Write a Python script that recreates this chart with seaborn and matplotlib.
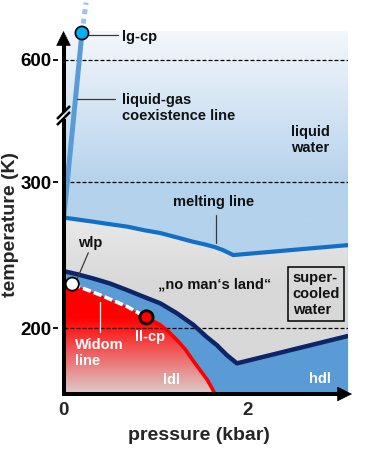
import numpy as np
import matplotlib
matplotlib.use("Agg")
import matplotlib.pyplot as plt
from matplotlib.patches import Polygon
import seaborn as sns

# --- data (pressure in kbar, temperature in K) ---
melt_p = [0.0, 0.32, 0.50, 0.69, 0.87, 1.05, 1.23, 1.40, 1.52, 1.64, 1.73, 1.84, 3.08]
melt_T = [275.7, 272.9, 271.2, 269.5, 267.1, 265.1, 262.1, 259.2, 257.5, 255.5, 253.4,
          250.0, 256.8]

# dark blue border of the hdl region
hom_p = [0.0, 0.14, 0.32, 0.50, 0.69, 0.87, 1.05, 1.23, 1.41, 1.55, 1.66, 1.77, 1.88, 3.08]
hom_T = [239.0, 237.0, 234.0, 230.6, 226.0, 221.4, 216.9, 210.1, 202.1, 194.0, 188.4,
         181.5, 175.8, 194.5]

# ldl border: widom line up to ll-cp, then the red line
ldl_p = [0.0, 0.095, 0.40, 0.69, 0.90, 1.05, 1.14, 1.23, 1.32, 1.40, 1.48, 1.56, 1.61, 1.64]
ldl_T = [232.2, 230.1, 222.6, 214.7, 207.3, 202.1, 197.5, 191.8, 185.4, 178.1, 171.2,
         164.4, 158.7, 155.0]

# liquid-gas coexistence line (+ dotted continuation)
lg_p = [0.005, 0.2]
lg_T = [277.0, 647.0]
lg_ext_p = [0.2, 0.245]
lg_ext_T = [647.0, 700.0]

cp_names = ["lg-cp", "wlp", "ll-cp"]
cp_p = [0.2, 0.095, 0.90]
cp_T = [647.0, 230.1, 207.3]

ref_T = [200, 300, 600]
x_ticks = [0, 2]

T_MIN, T_MAX = 155.0, 704.5
P_MAX = 3.08

# broken temperature axis: linear below the break, compressed above it
T_knots = [100, 155, 345.9, 504, 720]
u_knots = [-80.3, 0, 278.7, 278.8, 402.8]


def fwd(t):
    return np.interp(t, T_knots, u_knots)


def inv(u):
    return np.interp(u, u_knots, T_knots)


sns.set_style("white")
plt.rcParams["font.family"] = ["Liberation Sans", "DejaVu Sans"]
plt.rcParams["font.weight"] = "bold"

W, H = 374, 457
fig = plt.figure(figsize=(W / 100, H / 100), dpi=100)
ax = fig.add_axes([63.5 / W, (H - 393.7) / H, (347.6 - 63.5) / W, 393.7 / H])
ax.set_yscale("function", functions=(fwd, inv))
ax.set_xlim(0, P_MAX)
ax.set_ylim(T_MIN, T_MAX)
ax.set_autoscale_on(False)
ax.set_facecolor("none")


def vgrad(stops, n=500):
    # stops: (pixel row from top, rgb) -> image in axes fraction, origin lower
    py = np.linspace(393.7, 0, n)
    ys = [s[0] for s in stops]
    img = np.zeros((n, 1, 3))
    for k in range(3):
        img[:, 0, k] = np.interp(py, ys, [s[1][k] / 255 for s in stops])
    return img


def clipped_grad(stops, verts, z):
    im = ax.imshow(vgrad(stops), extent=(0, 1, 0, 1), transform=ax.transAxes,
                   origin="lower", aspect="auto", interpolation="bilinear", zorder=z)
    clip = Polygon(verts, closed=True, fc="none", ec="none", transform=ax.transData)
    ax.add_patch(clip)
    im.set_clip_path(clip)


# liquid water background
clipped_grad([(31, (244, 247, 251)), (185, (180, 210, 236)), (394, (180, 210, 236))],
             [(0, T_MIN), (0, 650.5), (P_MAX, 650.5), (P_MAX, T_MIN)], 0)

# no man's land (grey)
clipped_grad([(217, (233, 233, 233)), (285, (216, 216, 216)), (394, (216, 216, 216))],
             [(0, T_MIN)] + list(zip(melt_p, melt_T)) + [(P_MAX, T_MIN)], 1)

# hdl region
ax.fill_between(hom_p, hom_T, T_MIN, color="#5b9bd5", lw=0, zorder=2)

# ldl region (red fading to grey)
clipped_grad([(318, (255, 0, 0)), (394, (221, 206, 206))],
             [(0, T_MIN)] + list(zip(ldl_p, ldl_T)) + [(ldl_p[-1], T_MIN)], 3)

# reference temperatures
ax.hlines(ref_T, 0, P_MAX, colors="black", lw=0.9, linestyles=(0, (3.2, 1.6)), zorder=4)

# lines
sns.lineplot(x=melt_p, y=melt_T, sort=False, estimator=None, color="#1170c6",
             lw=3, ax=ax, zorder=5)
sns.lineplot(x=hom_p, y=hom_T, sort=False, estimator=None, color="#0d2566",
             lw=3.2, ax=ax, zorder=5)
sns.lineplot(x=ldl_p[4:], y=ldl_T[4:], sort=False, estimator=None, color="#ff0000",
             lw=2.6, ax=ax, zorder=5)
sns.lineplot(x=ldl_p[1:5], y=ldl_T[1:5], sort=False, estimator=None, color="white",
             lw=2.6, linestyle=(0, (2.3, 0.9)), ax=ax, zorder=5)
sns.lineplot(x=lg_p, y=lg_T, sort=False, estimator=None, color="#5b9bd5",
             lw=3.6, solid_capstyle="butt", ax=ax, zorder=5)
sns.lineplot(x=lg_ext_p, y=lg_ext_T, sort=False, estimator=None, color="#9dc3e6",
             lw=3.6, linestyle=(0, (1, 0.9)), dash_capstyle="butt", ax=ax, zorder=5)

sns.scatterplot(x=cp_p, y=cp_T, hue=cp_names,
                palette={"lg-cp": "#00b0f0", "wlp": "white", "ll-cp": "#ff0000"},
                s=90, edgecolor="black", linewidth=[1.2, 1.3, 2.0], legend=False,
                ax=ax, zorder=7, clip_on=False)

# labels and leader lines
txt = dict(fontsize=10.5, fontweight="bold", color="#111111", zorder=8)
lead = dict(color="#3a3a3a", lw=0.9, zorder=6)
ax.text(0.631, 639.2, "lg-cp", ha="left", va="center", **txt)
ax.plot([0.258, 0.594], [643, 643], **lead)
ax.text(0.631, 516.4, "liquid-gas\ncoexistence line", ha="left", va="center",
        linespacing=1.15, **txt)
ax.plot([0.150, 0.558], [531.5, 531.5], **lead)
ax.text(2.466, 328.8, "liquid\nwater", ha="left", va="center", linespacing=1.15, **txt)
ax.text(1.632, 286.5, "melting line", ha="center", va="center", **txt)
ax.plot([1.653, 1.653], [277.4, 258.2], **lead)
ax.text(0.287, 258.2, "wlp", ha="center", va="center", **txt)
ax.plot([0.269, 0.150], [251.6, 234.0], **lead)
ax.text(1.638, 230.1, "\u201eno man\u2018s land\u201c", ha="center", va="center", **txt)
ax.text(2.485, 223.3, "super-\ncooled\nwater", ha="left", va="center", linespacing=1.15,
        bbox=dict(boxstyle="square,pad=0.3", fc="none", ec="black", lw=1.1), **txt)

wtxt = dict(txt, color="white")
ax.text(0.938, 194.0, "ll-cp", ha="center", va="center", **wtxt)
ax.text(0.125, 182.7, "Widom\nline", ha="left", va="center", linespacing=1.15, **wtxt)
ax.plot([0.396, 0.396], [218.0, 197.5], color="white", lw=0.9, zorder=6)
ax.text(1.171, 164.4, "ldl", ha="center", va="center", **wtxt)
ax.text(2.777, 165.1, "hdl", ha="center", va="center", **wtxt)

# axes: ticks, labels
for sp in ax.spines.values():
    sp.set_visible(False)
ax.spines["left"].set_position(("outward", 4.0))
ax.set_yticks(ref_T)
ax.set_yticklabels([str(t) for t in ref_T])
ax.set_xticks(x_ticks)
ax.set_xticklabels([str(t) for t in x_ticks])
ax.yaxis.set_minor_locator(matplotlib.ticker.NullLocator())
ax.tick_params(axis="y", left=True, length=3.6, width=1.3, pad=1, direction="out",
               colors="black", labelsize=13.5)
ax.tick_params(axis="x", bottom=True, length=0, pad=6.3, labelsize=13.5)
for lab in ax.get_xticklabels() + ax.get_yticklabels():
    lab.set_fontweight("bold")
ax.set_xlabel("pressure (kbar)", fontsize=14, fontweight="bold")
ax.set_ylabel("temperature (K)", fontsize=14, fontweight="bold")
ax.xaxis.set_label_coords(0.477, -0.0846)
ax.yaxis.set_label_coords(-0.158, 0.431)


# hand-drawn axis arrows with a break on the temperature axis
def fxy(x, y):
    return (x / W, 1 - y / H)


def seg(p0, p1, lw):
    (x0, y0), (x1, y1) = fxy(*p0), fxy(*p1)
    fig.add_artist(plt.Line2D([x0, x1], [y0, y1], transform=fig.transFigure,
                              color="black", lw=lw, solid_capstyle="butt", zorder=10))


def head(tip, tail):
    ax.annotate("", xy=fxy(*tip), xytext=fxy(*tail), xycoords="figure fraction",
                textcoords="figure fraction", annotation_clip=False, zorder=11,
                arrowprops=dict(arrowstyle="-|>,head_length=1.4,head_width=0.7",
                                mutation_scale=7, lw=0.5, color="black",
                                shrinkA=0, shrinkB=0))


seg((61.5, 394), (340, 394), 2.9)
head((352, 394), (336, 394))
seg((63.5, 396), (63.5, 119), 2.9)
seg((63.5, 112), (63.5, 42), 2.9)
head((63.5, 31), (63.5, 47))
seg((57, 125), (70, 112), 1.8)
seg((57, 119), (70, 106), 1.8)

fig.savefig("out.png", dpi=100)
